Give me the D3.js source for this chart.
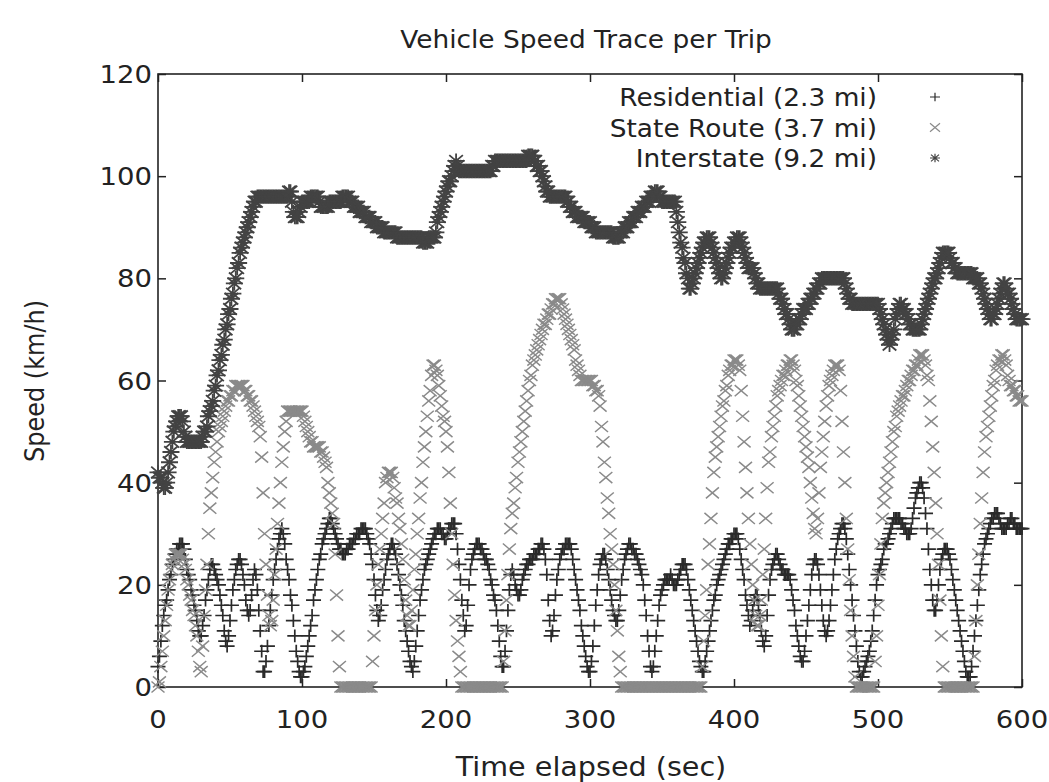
<!DOCTYPE html>
<html>
<head>
<meta charset="utf-8">
<script src="https://cdn.jsdelivr.net/npm/d3@7/dist/d3.min.js"></script>
<style>
	body { margin: 0; background: #fff; }
	text { font-family: "DejaVu Sans", sans-serif; fill: #222; }
</style>
</head>
<body>
<svg id="graph"></svg>
<script>

// speed (km/h) per second of trip
var residential = [
4,6,9,12,14,16,17,19,21,22, 24,25,26,27,27,28,28,28,27,25, 23,22,21,19,18,16,15,13,11,10,
10,12,14,17,19,21,23,24,24,23, 22,21,20,18,16,14,11,9,8,10, 13,16,19,21,23,24,25,25,24,22,
20,17,15,14,15,18,21,23,22,19, 15,11,7,3,3,5,8,12,15,18, 21,23,25,27,29,30,31,30,28,25,
23,21,18,16,13,10,7,5,3,2, 2,3,4,6,8,10,12,14,17,19, 21,23,25,26,28,29,30,31,32,33,
33,32,31,30,29,28,27,27,26,26, 26,27,27,28,28,28,29,29,30,30, 30,31,31,31,31,30,29,28,26,24,
21,18,15,13,14,16,19,21,23,25, 26,27,28,28,27,26,24,22,20,18, 16,13,11,9,7,5,4,3,5,8,
11,14,17,19,21,23,24,25,26,27, 28,29,30,30,31,31,31,30,30,29, 29,30,31,31,32,32,32,30,27,24,
21,17,14,11,12,16,20,23,25,26, 27,28,28,28,27,27,26,25,25,24, 23,21,20,18,17,15,12,9,6,4,
4,7,11,15,19,22,23,22,20,19, 18,18,19,21,22,23,24,24,25,25, 25,26,26,26,27,27,28,28,27,25,
22,17,13,10,11,14,18,21,23,25, 26,27,27,28,28,28,28,27,25,23, 21,19,17,15,12,10,8,6,4,3,
3,5,8,12,16,19,22,24,25,26, 26,25,23,21,19,17,15,14,13,13, 15,18,21,23,25,26,27,28,28,27,
27,26,26,25,24,23,22,20,17,14, 10,7,4,3,4,7,10,13,16,18, 19,20,21,21,21,21,22,21,20,20,
20,21,22,23,24,24,24,23,21,19, 17,15,13,11,9,7,5,4,3,3, 5,7,9,11,13,15,17,18,20,21,
22,23,24,25,26,27,28,28,29,29, 30,30,30,29,27,25,23,21,18,16, 14,12,13,15,17,18,18,16,14,11,
9,8,10,14,18,21,23,24,25,26, 26,25,24,23,23,22,22,22,22,21, 19,17,15,12,10,8,6,5,5,7,
10,13,16,19,22,24,25,25,24,22, 19,16,13,11,10,11,13,16,19,22, 25,27,29,30,31,32,32,31,29,26,
23,20,17,14,11,8,5,3,2,2, 3,4,5,6,7,9,11,14,17,20, 22,23,24,25,27,28,28,29,30,31,
32,33,33,33,33,33,32,32,31,31, 30,30,30,31,33,35,37,38,39,40, 40,39,37,34,31,27,23,20,17,15,
15,17,20,23,25,26,27,27,27,26, 25,23,21,19,17,15,13,11,9,7, 5,3,2,2,2,4,7,10,13,16,
19,22,24,26,28,29,30,31,32,33, 33,34,34,34,33,32,31,31,31,31, 32,32,33,33,32,32,31,31,31,31,
31];

var stateRoute = [
0,1,4,7,10,13,16,19,21,23, 24,25,26,26,26,26,26,25,24,23, 21,20,18,17,15,14,12,10,7,4,
3,8,14,19,24,30,35,38,41,44, 46,48,50,51,52,53,54,55,56,56, 57,57,58,58,59,59,59,59,59,59,
58,58,57,57,56,56,55,54,53,52, 51,49,45,38,30,24,18,14,12,13, 17,22,27,32,36,40,44,47,50,52,
54,54,54,54,54,54,54,54,54,54, 54,53,52,51,50,49,48,48,47,47, 47,47,47,46,46,45,44,43,40,38,
36,34,32,26,18,10,4,0,0,0, 0,0,0,0,0,0,0,0,0,0, 0,0,0,0,0,0,0,0,0,5,
10,15,20,24,27,30,33,36,40,41, 42,42,42,41,39,37,36,33,31,28, 25,21,17,14,12,12,15,19,23,26,
30,33,37,40,44,47,50,53,56,58, 61,63,63,62,61,59,57,55,53,52, 50,47,42,36,30,24,18,13,9,6,
3,0,0,0,0,0,0,0,0,0, 0,0,0,0,0,0,0,0,0,0, 0,0,0,0,0,0,0,0,0,0,
5,11,17,22,27,31,34,36,39,41, 44,46,48,50,52,54,56,58,60,61, 63,64,65,66,67,68,69,70,71,71,
72,73,73,74,75,75,76,76,76,76, 75,74,73,72,71,70,69,68,67,66, 64,63,62,61,60,60,60,60,60,60,
60,60,59,59,58,58,57,55,51,48, 44,41,37,34,30,27,24,20,15,11, 6,3,0,0,0,0,0,0,0,0,
0,0,0,0,0,0,0,0,0,0, 0,0,0,0,0,0,0,0,0,0, 0,0,0,0,0,0,0,0,0,0,
0,0,0,0,0,0,0,0,0,0, 0,0,0,0,0,0,0,0,4,9, 14,19,24,28,33,38,42,45,47,49,
51,53,55,56,58,59,61,62,63,63, 64,64,64,63,62,58,53,48,43,38, 33,28,24,20,17,14,12,12,14,17,
22,27,33,39,44,46,49,51,53,55, 57,58,59,60,61,61,62,63,63,64, 64,63,62,60,59,57,55,53,51,49,
47,45,43,40,37,34,31,30,33,38, 43,46,49,52,55,57,59,60,61,62, 63,63,63,62,58,52,46,40,33,27,
21,15,10,6,2,0,0,0,0,0, 0,0,0,0,0,0,0,0,5,10, 16,22,28,33,36,38,40,42,44,46,
48,50,51,53,54,55,56,57,57,58, 59,60,60,61,62,62,63,63,64,65, 65,65,64,63,61,60,56,52,47,42,
36,30,24,17,10,4,0,0,0,0, 0,0,0,0,0,0,0,0,0,0, 0,0,0,0,0,0,0,6,13,20,
26,32,37,42,46,49,51,53,55,57, 59,60,62,63,64,64,65,65,64,63, 61,60,59,59,58,58,57,57,56,56,
56];

var interstate = [
42,41,41,40,39,39,40,42,44,46, 48,50,51,52,53,53,53,52,50,49, 48,48,48,48,48,48,48,48,48,48,
48,49,50,50,51,53,54,55,56,58, 59,61,62,64,65,67,68,70,71,73, 74,76,77,79,80,82,83,85,86,87,
88,89,90,91,92,93,94,95,95,96, 96,96,96,96,96,96,96,96,96,96, 96,96,96,96,96,96,96,96,96,96,
96,97,97,95,93,92,92,92,93,94, 95,95,95,95,95,95,96,96,96,96, 96,96,95,94,94,94,94,94,94,95,
95,95,95,95,95,95,95,95,96,96, 96,96,96,95,95,95,94,94,94,94, 93,93,93,93,92,92,92,92,91,91,
91,91,90,90,90,90,90,89,89,89, 89,89,89,89,89,89,88,88,88,88, 88,88,88,88,88,88,88,88,88,88,
88,88,88,88,87,87,87,87,88,88, 88,88,88,89,91,92,93,94,95,96, 97,98,99,99,100,101,102,103,102,101,
101,101,101,101,101,101,101,101,101,101, 101,101,101,101,101,101,101,101,101,101, 101,101,102,102,103,103,103,103,103,103,
103,103,103,103,103,103,103,103,103,103, 103,103,103,103,103,103,103,104,104,104, 104,103,103,102,102,101,101,100,99,98,
97,97,96,96,96,96,96,96,96,96, 96,96,96,96,95,95,94,94,93,93, 93,92,92,92,92,92,91,91,91,91,
91,90,90,90,89,89,89,89,89,89, 89,89,89,89,89,89,88,88,88,88, 88,89,89,89,90,90,90,91,91,91,
92,92,92,93,93,93,94,94,94,95, 95,95,96,96,96,97,97,97,96,96, 95,95,95,95,95,95,95,95,95,95,
93,91,89,87,86,84,83,81,80,78, 78,79,80,81,82,83,84,85,86,87, 87,88,88,88,87,86,85,84,83,82,
81,80,80,81,82,83,84,85,86,86, 87,87,88,88,88,87,86,85,84,83, 82,82,82,82,81,80,79,79,78,78,
78,78,78,78,78,78,78,78,78,78, 78,77,76,76,75,74,73,73,72,71, 70,70,70,71,71,72,72,73,74,74,
74,75,75,76,76,77,77,78,78,79, 79,80,80,80,80,80,80,80,80,80, 80,80,80,80,80,80,80,79,78,77,
76,76,75,75,75,75,75,75,75,75, 75,75,75,75,75,75,75,75,75,75, 75,74,73,72,71,70,69,68,67,68,
69,70,72,73,74,75,75,74,74,73, 73,72,71,71,70,70,70,70,70,70, 71,72,73,74,75,76,77,78,79,80,
80,81,82,83,84,85,85,85,85,85, 84,83,83,82,82,81,81,81,81,81, 81,81,81,81,81,81,80,80,80,80,
79,79,78,77,76,75,74,73,72,72, 73,73,74,75,76,77,78,79,79,78, 77,77,76,75,74,73,72,72,72,72,
72];

var seriesNames = ["Residential (2.3 mi)", "State Route (3.7 mi)", "Interstate (9.2 mi)"];
var xTicks = [0, 100, 200, 300, 400, 500, 600];
var yTicks = [0, 20, 40, 60, 80, 100, 120];

var graphWidth = 1049;
var graphHeight = 782;
var plotLeft = 158, plotRight = 1022, plotTop = 74, plotBottom = 687;
var stretch = 1.1;   // the scanned figure is a bit wider than tall

var graph = d3.select('#graph')
	.attr("width", graphWidth)
	.attr("height", graphHeight);

var x = d3.scaleLinear().domain([0, 600]).range([plotLeft, plotRight]);
var y = d3.scaleLinear().domain([0, 120]).range([plotBottom, plotTop]);

/* gnuplot style point shapes */
function plusPath(s) {
	return "M" + (-s) + ",0H" + s + "M0," + (-s * 0.85) + "V" + (s * 0.85);
}
function crossPath(s) {
	var h = s * 0.85;
	return "M" + (-s) + "," + (-h) + "L" + s + "," + h + "M" + (-s) + "," + h + "L" + s + "," + (-h);
}
function starPath(s) {
	return plusPath(s) + crossPath(s * 0.8);
}

var series = [
	{ name: seriesNames[0], values: residential, path: plusPath(7.5), legendPath: plusPath(5), color: "#2a2a2a", width: 1.7 },
	{ name: seriesNames[1], values: stateRoute, path: crossPath(6.5), legendPath: crossPath(5), color: "#8a8a8a", width: 1.5 },
	{ name: seriesNames[2], values: interstate, path: starPath(8.5), legendPath: starPath(5), color: "#434343", width: 1.8 }
];

// axes: inward ticks on all four sides, like gnuplot's border
var axisL = d3.axisLeft(y).tickValues(yTicks).tickSize(-8).tickFormat("");
var axisR = d3.axisRight(y).tickValues(yTicks).tickSize(-8).tickFormat("");
var axisB = d3.axisBottom(x).tickValues(xTicks).tickSize(-8).tickFormat("");
var axisT = d3.axisTop(x).tickValues(xTicks).tickSize(-8).tickFormat("");

graph.append("g").attr("transform", "translate(" + plotLeft + ",0)").call(axisL);
graph.append("g").attr("transform", "translate(" + plotRight + ",0)").call(axisR);
graph.append("g").attr("transform", "translate(0," + plotBottom + ")").call(axisB);
graph.append("g").attr("transform", "translate(0," + plotTop + ")").call(axisT);
graph.selectAll(".domain").remove();
graph.selectAll(".tick line").attr("stroke", "#222").attr("stroke-width", 1.5);

graph.append("rect")
	.attr("x", plotLeft).attr("y", plotTop)
	.attr("width", plotRight - plotLeft).attr("height", plotBottom - plotTop)
	.attr("fill", "none").attr("stroke", "#222").attr("stroke-width", 1.6);

function label(px, py, str, anchor, size) {
	return graph.append("text")
		.attr("transform", "translate(" + px + "," + py + ") scale(" + stretch + ",1)")
		.attr("text-anchor", anchor)
		.attr("font-size", size)
		.text(str);
}

yTicks.forEach(function(d) { label(152, y(d) + 9, d, "end", 25); });
xTicks.forEach(function(d) { label(x(d), 728, d, "middle", 25); });

label(586, 48, "Vehicle Speed Trace per Trip", "middle", 24);
label(591, 776, "Time elapsed (sec)", "middle", 26);

graph.append("text")
	.attr("transform", "translate(44,381) rotate(-90) scale(1," + stretch + ")")
	.attr("text-anchor", "middle")
	.attr("font-size", 24)
	.text("Speed (km/h)");

// points, in plot order
series.forEach(function(s) {
	graph.append("g")
		.attr("fill", "none")
		.attr("stroke", s.color)
		.attr("stroke-width", s.width)
		.selectAll("path")
		.data(s.values)
		.enter().append("path")
		.attr("d", s.path)
		.attr("transform", function(d, i) { return "translate(" + x(i) + "," + y(d) + ")"; });
});

// legend, top right inside the frame
series.forEach(function(s, i) {
	var ly = 97 + i * 30.5;
	label(877, ly + 9, s.name, "end", 24);
	graph.append("path")
		.attr("d", s.legendPath)
		.attr("transform", "translate(935," + ly + ")")
		.attr("fill", "none")
		.attr("stroke", s.color)
		.attr("stroke-width", 1.2);
});

</script>
</body>
</html>
